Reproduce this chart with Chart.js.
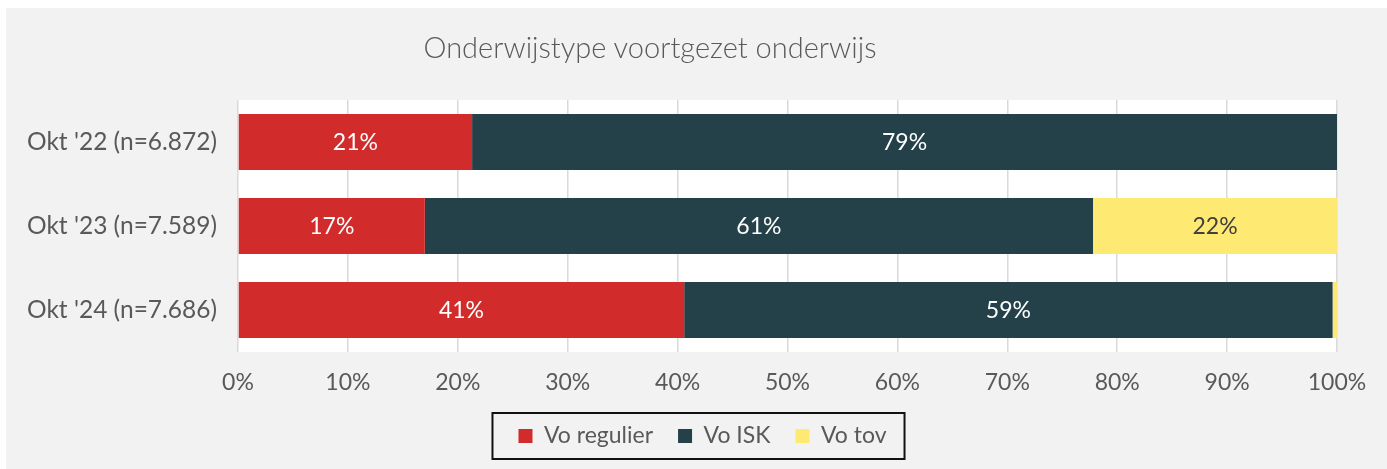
<!DOCTYPE html>
<html lang="nl">
<head>
    <meta charset="UTF-8">
    <title>Onderwijstype voortgezet onderwijs</title>
    <style>
        body {
            margin: 0;
            background: #ffffff;
            font-family: 'Lato', sans-serif;
        }
        .panel {
            position: absolute;
            left: 6px;
            top: 8px;
            width: 1381px;
            height: 461px;
            background: #f2f2f2;
        }
        .title {
            position: absolute;
            left: 0;
            top: 23px;
            width: 1288px;
            text-align: center;
            font-family: 'Lato', sans-serif;
            font-weight: 300;
            font-size: 29px;
            line-height: 32px;
            color: #595959;
        }
        canvas {
            position: absolute;
            left: 0;
            top: 0;
        }
    </style>
</head>
<body>
    <div class="panel">
        <canvas id="chart" width="1381" height="461"></canvas>
        <div class="title">Onderwijstype voortgezet onderwijs</div>
    </div>

    <script src="https://cdn.jsdelivr.net/npm/chart.js"></script>
    <script>
        // data (percentages)
        const categories = ["Okt '22 (n=6.872)", "Okt '23 (n=7.589)", "Okt '24 (n=7.686)"];
        const seriesNames = ['Vo regulier', 'Vo ISK', 'Vo tov'];
        const voRegulier = [21.3, 17.0, 40.6];
        const voIsk = [78.7, 60.8, 59.0];
        const voTov = [0, 22.2, 0.4];
        const tickValues = [0, 10, 20, 30, 40, 50, 60, 70, 80, 90, 100];

        const colors = ['#d12b2b', '#24414a', '#fee972'];
        const labelColors = ['#ffffff', '#ffffff', '#404040'];
        const textGray = '#595959';
        const font = { family: 'Lato', size: 23 };

        // white plot background
        const plotBackground = {
            id: 'plotBackground',
            beforeDraw(chart) {
                const { ctx, chartArea } = chart;
                ctx.save();
                ctx.fillStyle = '#ffffff';
                ctx.fillRect(chartArea.left, chartArea.top, chartArea.right - chartArea.left, chartArea.bottom - chartArea.top);
                ctx.restore();
            }
        };

        // percentage labels inside the segments
        const barLabels = {
            id: 'barLabels',
            afterDatasetsDraw(chart) {
                const { ctx } = chart;
                ctx.save();
                ctx.font = '23px Lato';
                ctx.textAlign = 'center';
                ctx.textBaseline = 'middle';
                chart.data.datasets.forEach((ds, i) => {
                    const meta = chart.getDatasetMeta(i);
                    meta.data.forEach((bar, j) => {
                        const v = ds.data[j];
                        if (v < 3) return;
                        ctx.fillStyle = labelColors[i];
                        ctx.fillText(Math.round(v) + '%', (bar.x + bar.base) / 2, bar.y + 1);
                    });
                });
                ctx.restore();
            }
        };

        // legend is centred a little right of the canvas middle, and framed
        const legendFrame = {
            id: 'legendFrame',
            afterLayout(chart) {
                chart.legend.left = 62;
            },
            afterDraw(chart) {
                const lg = chart.legend;
                const pad = lg.options.labels.padding;
                const groupWidth = lg.lineWidths[0] - pad;
                const cx = (lg.left + lg.right) / 2;
                const cy = lg.top + pad + 23 / 2;
                const { ctx } = chart;
                ctx.save();
                ctx.strokeStyle = '#111111';
                ctx.lineWidth = 2;
                ctx.strokeRect(cx - groupWidth / 2 - 26, cy - 23, groupWidth + 44, 46);
                ctx.restore();
            }
        };

        const ctx = document.getElementById('chart').getContext('2d');
        new Chart(ctx, {
            type: 'bar',
            data: {
                labels: categories,
                datasets: [voRegulier, voIsk, voTov].map((values, i) => ({
                    label: seriesNames[i],
                    data: values,
                    backgroundColor: colors[i],
                    borderWidth: 0,
                    barPercentage: 0.665,
                    categoryPercentage: 1
                }))
            },
            options: {
                indexAxis: 'y',
                responsive: false,
                animation: false,
                layout: { padding: { left: 0, right: 50, top: 92, bottom: 11.5 } },
                scales: {
                    x: {
                        stacked: true,
                        min: 0,
                        max: 100,
                        afterBuildTicks(scale) {
                            scale.ticks = tickValues.map(v => ({ value: v }));
                        },
                        afterFit(scale) { scale.height = 47.5; },
                        grid: { color: '#d9d9d9', lineWidth: 1.5, drawTicks: false },
                        border: { display: false },
                        ticks: {
                            padding: 17,
                            color: textGray,
                            font: font,
                            callback: v => v + '%'
                        }
                    },
                    y: {
                        stacked: true,
                        afterFit(scale) { scale.width = 232; },
                        grid: { display: false, drawTicks: false },
                        border: { display: false },
                        ticks: { padding: 21, color: textGray, font: { family: 'Lato', size: 24.5 } }
                    }
                },
                plugins: {
                    title: { display: false },
                    tooltip: { enabled: false },
                    legend: {
                        position: 'bottom',
                        labels: {
                            boxWidth: 14,
                            boxHeight: 14,
                            padding: 25,
                            color: textGray,
                            font: font
                        }
                    }
                }
            },
            plugins: [plotBackground, barLabels, legendFrame]
        });
    </script>
</body>
</html>
